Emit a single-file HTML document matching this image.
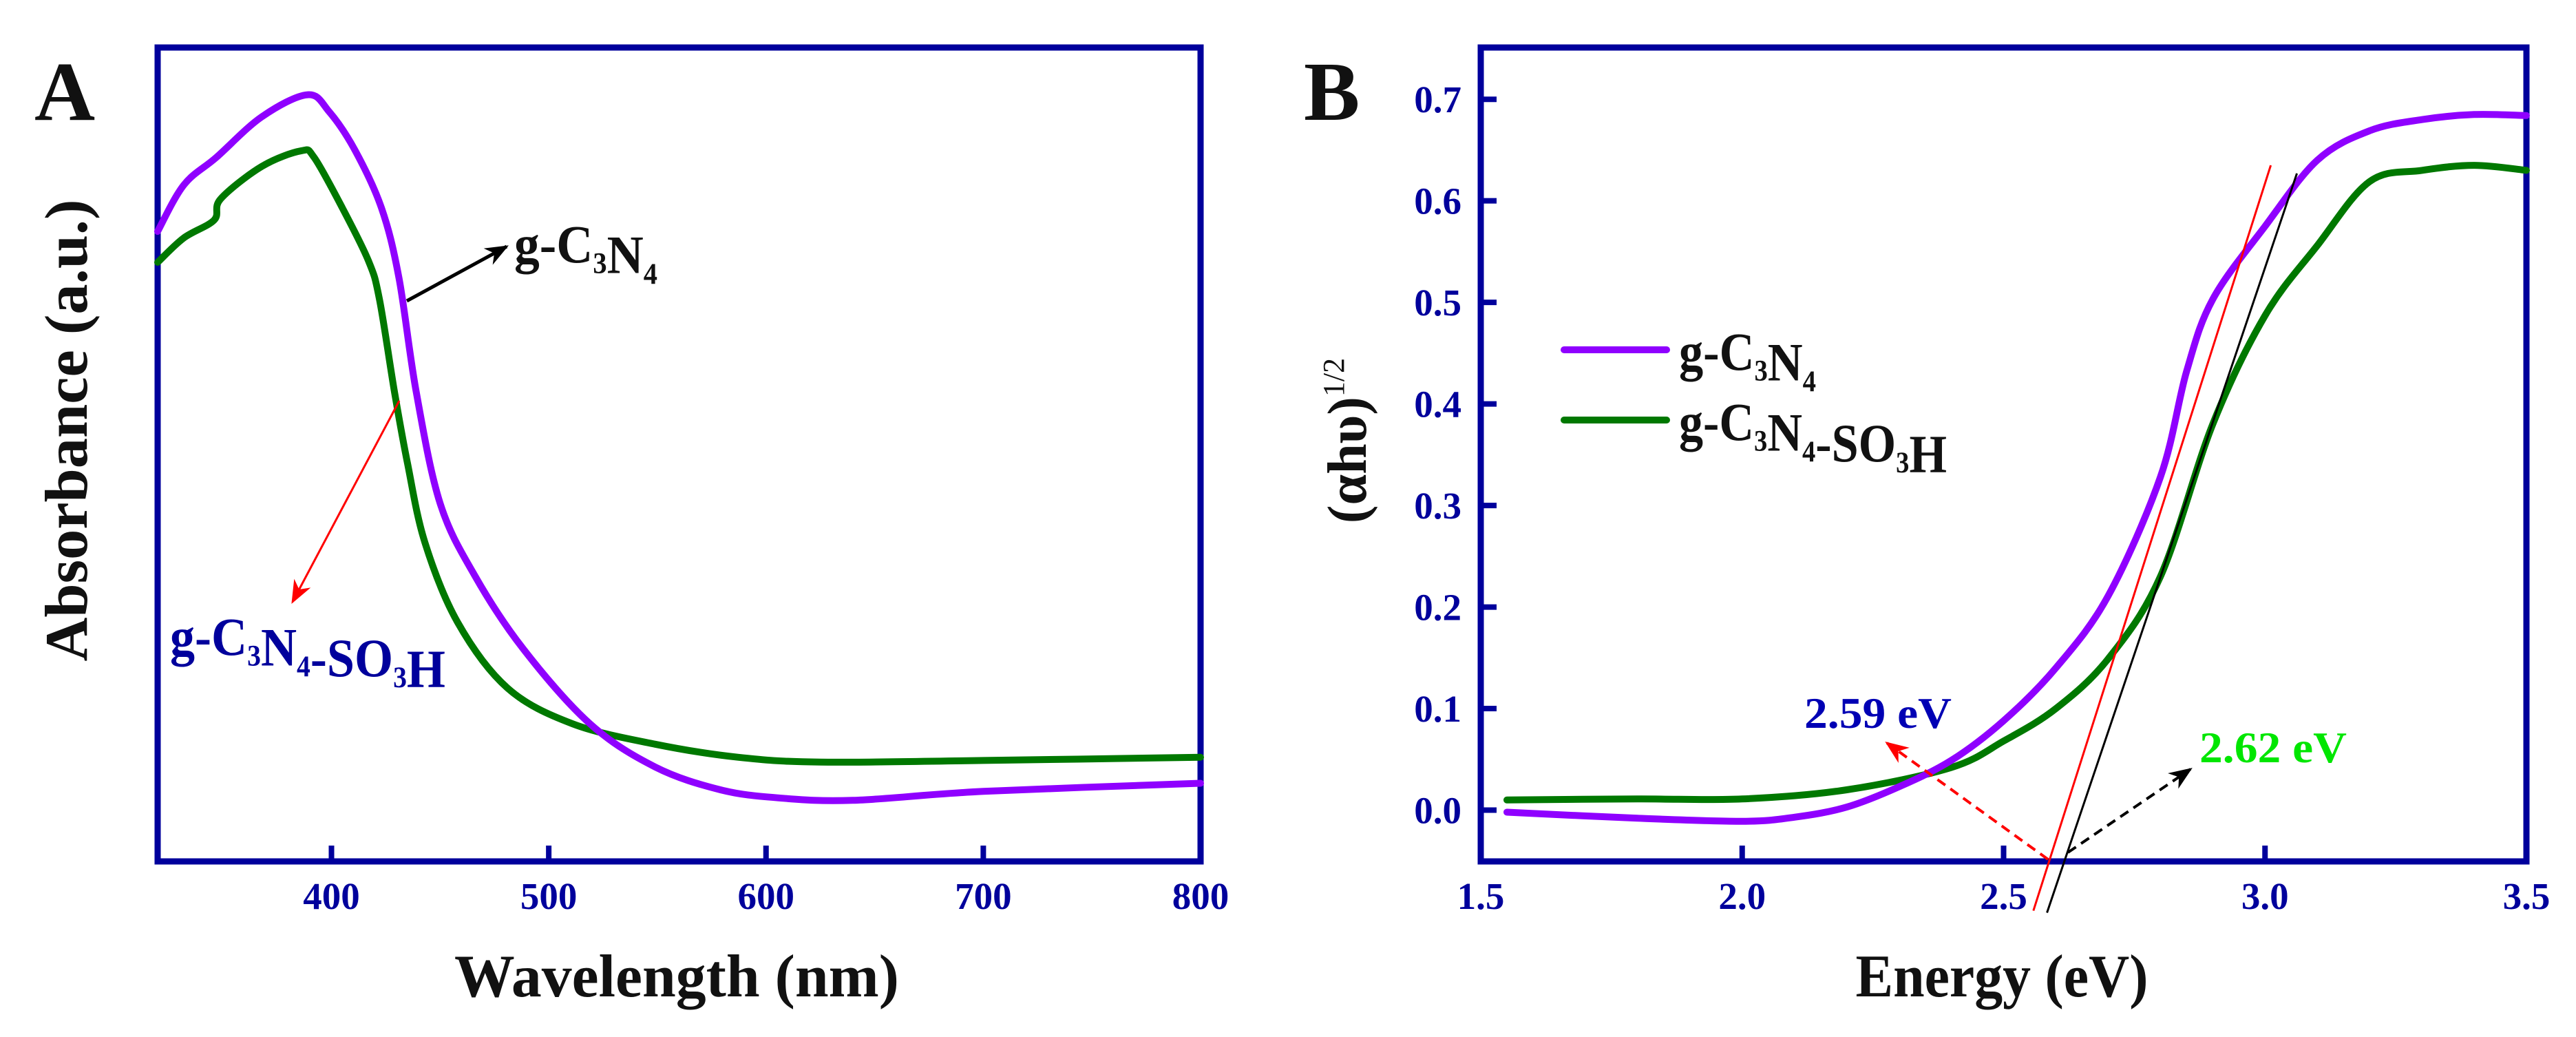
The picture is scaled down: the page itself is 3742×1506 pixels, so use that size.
<!DOCTYPE html>
<html><head><meta charset="utf-8"><style>
html,body{margin:0;padding:0;background:#fff;}
svg{display:block;font-family:"Liberation Serif",serif;}
</style></head><body>
<svg id="fig" width="3742" height="1506" viewBox="0 0 3742 1506" xmlns="http://www.w3.org/2000/svg">
<rect width="3742" height="1506" fill="#fff"/>
<g id="pa"></g>
<g id="pb"></g>
</svg>
<script>
// Panel A data
const aTicks = [400, 500, 600, 700, 800];
const aPurpleX = [320,332,347,368,389,399,411,423,431,439,450,466,488,519,549,579,606,640,700,800];
const aPurpleY = [.774,.831,.865,.915,.942,.921,.873,.803,.718,.577,.44,.351,.262,.169,.116,.088,.078,.075,.086,.096];
const aGreenX = [320,332,346,349,368,386,392,405,417,422,429,435,443,458,481,511,549,587,625,700,800];
const aGreenY = [.736,.766,.788,.814,.854,.873,.865,.803,.738,.692,.577,.489,.392,.294,.213,.169,.144,.128,.122,.124,.128];
// Panel B data
const bXTicks = [1.5, 2.0, 2.5, 3.0, 3.5];
const bYTicks = [0.0, 0.1, 0.2, 0.3, 0.4, 0.5, 0.6, 0.7];
const bPurpleX = [1.55,1.8,2.0,2.1,2.2,2.3,2.4,2.5,2.6,2.7,2.8,2.85,2.9,3.0,3.1,3.2,3.3,3.4,3.5];
const bPurpleY = [-0.002,-0.008,-0.011,-0.007,0.003,0.023,0.049,0.088,0.14,0.211,0.328,0.432,0.503,0.575,0.64,0.669,0.68,0.685,0.684];
const bGreenX = [1.55,1.8,2.0,2.2,2.4,2.5,2.6,2.7,2.8,2.9,3.0,3.1,3.2,3.3,3.4,3.5];
const bGreenY = [0.01,0.011,0.011,0.02,0.042,0.068,0.10,0.149,0.23,0.38,0.487,0.556,0.619,0.63,0.635,0.63];
const tangentRed = [[2.557,-0.099],[3.011,0.635]];
const tangentBlack = [[2.583,-0.101],[3.061,0.627]];

const NS = "http://www.w3.org/2000/svg";
const NAVY = "#00009c", PURPLE = "#8f00ff", GREEN = "#007800";
function mk(parent, tag, attrs, text){
  const e = document.createElementNS(NS, tag);
  for (const k in attrs) e.setAttribute(k, attrs[k]);
  if (text !== undefined) e.textContent = text;
  parent.appendChild(e); return e;
}
const defs = mk(document.getElementById('fig'), 'defs', {});
[['ahk','#000'],['ahr','#ff0000']].forEach(([id,c])=>{
  const m = mk(defs,'marker',{id:id,viewBox:'0 0 10 10',refX:'9',refY:'5',markerUnits:'userSpaceOnUse',orient:'auto'});
  m.setAttribute('markerWidth','34'); m.setAttribute('markerHeight','34');
  mk(m,'path',{d:'M0,1 L10,5 L0,9 L3,5 Z',fill:c});
});

// ---------- Panel A ----------
const A = {l:229, r:1744, t:69, b:1251, x0:320, x1:800};
const ax = v => A.l + (v - A.x0) / (A.x1 - A.x0) * (A.r - A.l);
const ay = v => A.b - v * (A.b - A.t);
const pa = document.getElementById('pa');

const frameA = mk(pa,'rect',{x:A.l,y:A.t,width:A.r-A.l,height:A.b-A.t,fill:'none',stroke:NAVY,'stroke-width':9});
 
aTicks.forEach(t=>{
  const tk = mk(pa,'line',{x1:ax(t),x2:ax(t),y1:A.b,y2:A.b-23,stroke:NAVY,'stroke-width':8});
   
  const lb = mk(pa,'text',{x:ax(t),y:1320,'text-anchor':'middle','font-size':55,'font-weight':'bold',fill:NAVY},String(t));
   
});
function series(parent, xs, ys, fx, fy, color, name){
  const P = xs.map((x,i)=>[fx(x), fy(ys[i])]);
  let d = 'M' + P[0][0].toFixed(1) + ',' + P[0][1].toFixed(1);
  for (let i = 0; i < P.length - 1; i++){
    const p0 = P[Math.max(0,i-1)], p1 = P[i], p2 = P[i+1], p3 = P[Math.min(P.length-1,i+2)];
    const c1 = [p1[0] + (p2[0]-p0[0])/6, p1[1] + (p2[1]-p0[1])/6];
    const c2 = [p2[0] - (p3[0]-p1[0])/6, p2[1] - (p3[1]-p1[1])/6];
    d += ' C' + c1.map(v=>v.toFixed(1)).join(',') + ' ' + c2.map(v=>v.toFixed(1)).join(',') + ' ' + p2.map(v=>v.toFixed(1)).join(',');
  }
  const p = mk(parent,'path',{d:d,fill:'none',stroke:color,'stroke-width':10,'stroke-linejoin':'round','stroke-linecap':'round'});
   
  return p;
}
series(pa, aGreenX, aGreenY, ax, ay, GREEN, 'series-gcn-so3h-a');
series(pa, aPurpleX, aPurpleY, ax, ay, PURPLE, 'series-gcn-a');

const xtA = mk(pa,'text',{x:983,y:1447,'text-anchor':'middle','font-size':88,'font-weight':'bold',fill:'#111',textLength:646,lengthAdjust:'spacingAndGlyphs'},'Wavelength (nm)');
 
const ytA = mk(pa,'text',{x:0,y:0,transform:'translate(126,625) rotate(-90)','text-anchor':'middle','font-size':88,'font-weight':'bold',fill:'#111',textLength:671,lengthAdjust:'spacingAndGlyphs'},'Absorbance (a.u.)');
 
const lA = mk(pa,'text',{x:50,y:174,'font-size':122,'font-weight':'bold',fill:'#111'},'A');
 

const arA1 = mk(pa,'line',{x1:591,y1:437,x2:736,y2:358,stroke:'#000','stroke-width':5,'marker-end':'url(#ahk)'});
 
const arA2 = mk(pa,'line',{x1:580,y1:582,x2:425,y2:874,stroke:'#ff0000','stroke-width':3,'marker-end':'url(#ahr)'});
 

function formula(parent, x, y, parts, size, color, weight, len, name){
  const t = mk(parent,'text',{x:x,y:y,'font-size':size,'font-weight':weight,fill:color,textLength:len,lengthAdjust:'spacingAndGlyphs'});
   
  parts.forEach(([s,sub])=>{
    if (sub){ mk(t,'tspan',{dy:size*0.2,'font-size':size*0.55},s); mk(t,'tspan',{dy:-size*0.2},''); }
    else mk(t,'tspan',{},s);
  });
  return t;
}
const F1 = [['g-C',0],['3',1],['N',0],['4',1]];
const F2 = [['g-C',0],['3',1],['N',0],['4',1],['-SO',0],['3',1],['H',0]];
formula(pa, 747, 381, F1, 78, '#111', 'bold', 208, 'annotation-gcn');
formula(pa, 247, 951, F2, 78, NAVY, 'bold', 400, 'annotation-gcn-so3h');

// ---------- Panel B ----------
const B = {l:2151, r:3670, t:69, b:1251, x0:1.5, x1:3.5, y0:-0.0505, y1:0.751};
const bx = v => B.l + (v - B.x0) / (B.x1 - B.x0) * (B.r - B.l);
const by = v => B.b - (v - B.y0) / (B.y1 - B.y0) * (B.b - B.t);
const pb = document.getElementById('pb');

const frameB = mk(pb,'rect',{x:B.l,y:B.t,width:B.r-B.l,height:B.b-B.t,fill:'none',stroke:NAVY,'stroke-width':9});
 
bXTicks.forEach(t=>{
  const tk = mk(pb,'line',{x1:bx(t),x2:bx(t),y1:B.b,y2:B.b-23,stroke:NAVY,'stroke-width':8});
   
  const lb = mk(pb,'text',{x:bx(t),y:1320,'text-anchor':'middle','font-size':55,'font-weight':'bold',fill:NAVY},t.toFixed(1));
   
});
bYTicks.forEach(t=>{
  const tk = mk(pb,'line',{x1:B.l,x2:B.l+23,y1:by(t),y2:by(t),stroke:NAVY,'stroke-width':8});
   
  const lb = mk(pb,'text',{x:2123,y:by(t)+19,'text-anchor':'end','font-size':55,'font-weight':'bold',fill:NAVY},t.toFixed(1));
   
});
series(pb, bGreenX, bGreenY, bx, by, GREEN, 'series-gcn-so3h-b');
series(pb, bPurpleX, bPurpleY, bx, by, PURPLE, 'series-gcn-b');

const tr = mk(pb,'line',{x1:bx(tangentRed[0][0]),y1:by(tangentRed[0][1]),x2:bx(tangentRed[1][0]),y2:by(tangentRed[1][1]),stroke:'#ff0000','stroke-width':3});
 
const tb = mk(pb,'line',{x1:bx(tangentBlack[0][0]),y1:by(tangentBlack[0][1]),x2:bx(tangentBlack[1][0]),y2:by(tangentBlack[1][1]),stroke:'#000','stroke-width':3});
 

const dr = mk(pb,'line',{x1:2975,y1:1248,x2:2741,y2:1079,stroke:'#ff0000','stroke-width':4,'stroke-dasharray':'14,9','marker-end':'url(#ahr)'});
 
const db = mk(pb,'line',{x1:3004,y1:1238,x2:3182,y2:1117,stroke:'#000','stroke-width':4,'stroke-dasharray':'14,9','marker-end':'url(#ahk)'});
 

const t259 = mk(pb,'text',{x:2621,y:1057,'font-size':64,'font-weight':'bold',fill:'#0000b4',textLength:214,lengthAdjust:'spacingAndGlyphs'},'2.59 eV');
 
const t262 = mk(pb,'text',{x:3195,y:1107,'font-size':64,'font-weight':'bold',fill:'#00e600',textLength:214,lengthAdjust:'spacingAndGlyphs'},'2.62 eV');
 

const lg1 = mk(pb,'line',{x1:2272,x2:2421,y1:508,y2:508,stroke:PURPLE,'stroke-width':10,'stroke-linecap':'round'});
 
const lg2 = mk(pb,'line',{x1:2272,x2:2421,y1:610,y2:610,stroke:GREEN,'stroke-width':10,'stroke-linecap':'round'});
 
formula(pb, 2439, 537, F1, 78, '#111', 'bold', 199, 'legend-entry-gcn');
formula(pb, 2439, 639, F2, 78, '#111', 'bold', 389, 'legend-entry-gcn-so3h');

const xtB = mk(pb,'text',{x:2908,y:1447,'text-anchor':'middle','font-size':88,'font-weight':'bold',fill:'#111',textLength:425,lengthAdjust:'spacingAndGlyphs'},'Energy (eV)');
 
const ytB = mk(pb,'text',{x:0,y:0,transform:'translate(1984,640) rotate(-90)','text-anchor':'middle','font-size':80,'font-weight':'bold',fill:'#111'});
 
mk(ytB,'tspan',{},'(αhυ)');
mk(ytB,'tspan',{dy:-32,'font-size':44,'font-weight':'normal'},'1/2');
const lB = mk(pb,'text',{x:1894,y:174,'font-size':122,'font-weight':'bold',fill:'#111'},'B');
 
</script>
</body></html>
